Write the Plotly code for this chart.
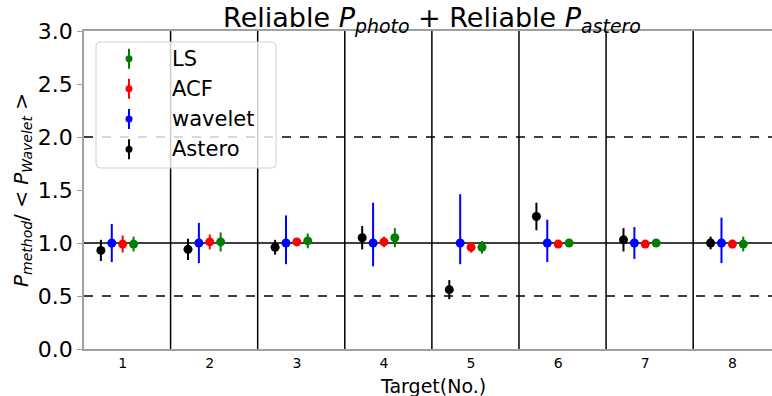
import plotly.graph_objects as go

# Targets and period ratios P_method / <P_wavelet>
targets = [1, 2, 3, 4, 5, 6, 7, 8]
tick_labels = ["1", "2", "3", "4", "5", "6", "7", "8"]

astero = [0.93, 0.94, 0.96, 1.05, 0.56, 1.25, 1.03, 1.00]
astero_err = [0.10, 0.10, 0.07, 0.11, 0.09, 0.13, 0.11, 0.06]

wavelet = [1.00, 1.00, 1.00, 1.00, 1.00, 1.00, 1.00, 1.00]
wavelet_err_plus = [0.18, 0.19, 0.26, 0.38, 0.46, 0.22, 0.15, 0.24]
wavelet_err_minus = [0.18, 0.19, 0.20, 0.22, 0.20, 0.18, 0.15, 0.19]

acf = [0.99, 1.01, 1.01, 1.01, 0.96, 0.99, 0.99, 0.99]
acf_err = [0.08, 0.07, 0.03, 0.05, 0.05, 0.02, 0.02, 0.04]

ls = [0.99, 1.01, 1.02, 1.05, 0.96, 1.00, 1.00, 0.99]
ls_err = [0.07, 0.09, 0.07, 0.09, 0.06, 0.02, 0.02, 0.07]

FONT = "DejaVu Sans"
L, R, T, B = 84, 0, 31, 47
W, H = 772, 396
pw, ph = W - L - R, H - T - B

fig = go.Figure()

series = [
    ("Astero", astero, astero_err, astero_err, "black", -0.25),
    ("wavelet", wavelet, wavelet_err_plus, wavelet_err_minus, "blue", -0.125),
    ("ACF", acf, acf_err, acf_err, "red", 0.0),
    ("LS", ls, ls_err, ls_err, "green", 0.125),
]
for name, vals, ep, em, col, off in series:
    fig.add_trace(go.Scatter(
        x=[t + off for t in targets], y=vals, mode="markers", name=name,
        marker=dict(color=col, size=9),
        error_y=dict(type="data", array=ep, arrayminus=em, symmetric=False,
                     color=col, thickness=2, width=0),
        showlegend=False,
    ))

shapes = []
# reference lines
for yv, dash in [(1.0, "solid"), (0.5, "dash"), (2.0, "dash")]:
    shapes.append(dict(type="line", xref="paper", yref="y", x0=0, x1=1, y0=yv, y1=yv,
                       line=dict(color="black", width=1.3, dash=dash), layer="below"))
# separators between targets
for t in targets[:-1]:
    shapes.append(dict(type="line", xref="x", yref="paper", x0=t + 0.55, x1=t + 0.55, y0=0, y1=1,
                       line=dict(color="black", width=1.5), layer="below"))

# legend box (rounded rectangle) in paper coordinates
bx0, bx1 = (96 - L) / pw, (276 - L) / pw
by1, by0 = (H - B - 42) / ph, (H - B - 168) / ph
rx, ry = 4 / pw, 4 / ph
path = (f"M {bx0+rx},{by1} L {bx1-rx},{by1} Q {bx1},{by1} {bx1},{by1-ry} "
        f"L {bx1},{by0+ry} Q {bx1},{by0} {bx1-rx},{by0} L {bx0+rx},{by0} "
        f"Q {bx0},{by0} {bx0},{by0+ry} L {bx0},{by1-ry} Q {bx0},{by1} {bx0+rx},{by1} Z")
shapes.append(dict(type="path", xref="paper", yref="paper", path=path,
                   fillcolor="rgba(255,255,255,0.8)", line=dict(color="#d0d0d0", width=1),
                   layer="above"))

annotations = []
legend_items = [("LS", "green", 58.7), ("ACF", "red", 88.7), ("wavelet", "blue", 119), ("Astero", "black", 149.3)]
mx = (129 - L) / pw
for label, col, py in legend_items:
    yy = (H - B - py) / ph
    shapes.append(dict(type="line", xref="paper", yref="paper", xsizemode="pixel", ysizemode="pixel",
                       xanchor=mx, yanchor=yy, x0=0, x1=0, y0=-10, y1=10,
                       line=dict(color=col, width=2), layer="above"))
    shapes.append(dict(type="circle", xref="paper", yref="paper", xsizemode="pixel", ysizemode="pixel",
                       xanchor=mx, yanchor=yy, x0=-3.5, x1=3.5, y0=-3.5, y1=3.5,
                       fillcolor=col, line=dict(color=col, width=0), layer="above"))
    annotations.append(dict(xref="paper", yref="paper", x=(170 - L) / pw, y=yy, text=label,
                            showarrow=False, xanchor="left", yanchor="middle",
                            font=dict(family=FONT, size=21, color="black")))

# x-axis title along the bottom edge of the figure
annotations.append(dict(xref="paper", yref="paper", x=(433 - L) / pw, y=-(H - T - ph) / ph,
                        text="Target(No.)", showarrow=False, xanchor="center", yanchor="bottom",
                        yshift=-3, font=dict(family=FONT, size=19, color="black")))

fig.update_layout(
    width=W, height=H,
    margin=dict(l=L, r=R, t=T, b=B),
    paper_bgcolor="white", plot_bgcolor="white",
    font=dict(family=FONT, color="black"),
    title=dict(text="Reliable <i>P</i><sub><i>photo</i></sub> + Reliable <i>P</i><sub><i>astero</i></sub>",
               x=432 / W, xanchor="center", y=1 - 18 / H, yanchor="middle",
               font=dict(family=FONT, size=27, color="black")),
    shapes=shapes,
    annotations=annotations,
    showlegend=False,
)
fig.update_xaxes(
    range=[0.556, 8.455], tickvals=targets, ticktext=tick_labels,
    ticks="", showgrid=False, zeroline=False, ticklabelstandoff=0,
    showline=True, linecolor="#a0a0a0", linewidth=1.5, mirror=True,
    tickfont=dict(family=FONT, size=14, color="black"),
)
fig.update_yaxes(
    range=[0, 3], dtick=0.5, tickformat=".1f",
    ticks="outside", ticklen=5, tickcolor="#a0a0a0", showgrid=False, zeroline=False,
    showline=True, linecolor="#a0a0a0", linewidth=1.5, mirror=False,
    tickfont=dict(family=FONT, size=22, color="black"),
    title=dict(text="<i>P</i><sub><i>method</i></sub>/ &lt; <i>P</i><sub><i>Wavelet</i></sub> &gt;",
               font=dict(family=FONT, size=20, color="black"), standoff=4),
)

fig.write_html("out.html")
